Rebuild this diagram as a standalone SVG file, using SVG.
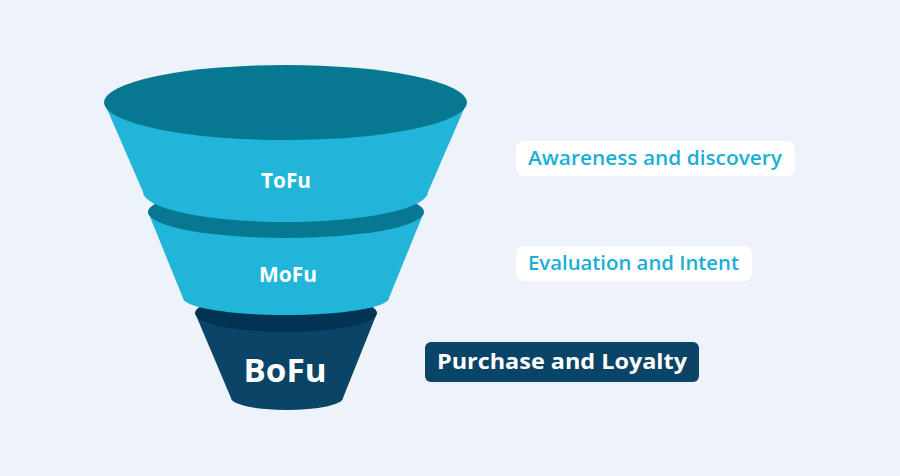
<svg xmlns="http://www.w3.org/2000/svg" width="900" height="476" viewBox="0 0 900 476">
<style>
.lbl{font-family:"Open Sans","Liberation Sans",sans-serif;font-weight:700;fill:#ffffff;text-anchor:middle}
.tag{font-family:"Open Sans","Liberation Sans",sans-serif;font-weight:600;font-size:19px}
</style>
<rect width="900" height="476" fill="#eef3fa"/>
<g id="bofu">
<path d="M195,313 L231,398 A56,12 0 0 0 343,398 L377,313 Z" fill="#0a4466"/>
<ellipse cx="286" cy="313" rx="91" ry="19" fill="#003452"/>
<text class="lbl" x="285" y="382" font-size="33" textLength="83" lengthAdjust="spacingAndGlyphs">BoFu</text>
</g>
<g id="mofu">
<path d="M148,212 L183,298 A103,17 0 0 0 389,298 L424,212 Z" fill="#22b5da"/>
<ellipse cx="286" cy="212" rx="138" ry="26" fill="#067891"/>
<text class="lbl" x="288" y="282" font-size="21" textLength="58" lengthAdjust="spacingAndGlyphs">MoFu</text>
</g>
<g id="tofu">
<path d="M104,102 L143,192 A142.5,30 0 0 0 428,192 L467,102 Z" fill="#22b5da"/>
<ellipse cx="285.5" cy="102.5" rx="181.5" ry="37.5" fill="#067891"/>
<text class="lbl" x="286" y="188" font-size="22" textLength="50" lengthAdjust="spacingAndGlyphs">ToFu</text>
</g>
<g id="label-awareness">
<rect x="516" y="141" width="279" height="35" rx="8" fill="#ffffff"/>
<text class="tag" x="528" y="165" fill="#1aafd6" textLength="254" lengthAdjust="spacingAndGlyphs">Awareness and discovery</text>
</g>
<g id="label-evaluation">
<rect x="516" y="246" width="236" height="35" rx="8" fill="#ffffff"/>
<text class="tag" x="528" y="270" fill="#1aafd6" textLength="211" lengthAdjust="spacingAndGlyphs">Evaluation and Intent</text>
</g>
<g id="label-purchase">
<rect x="425" y="342" width="274" height="40" rx="6" fill="#0a4466"/>
<text x="437" y="369" font-family="Open Sans, Liberation Sans, sans-serif" font-weight="700" font-size="22" fill="#ffffff" textLength="250" lengthAdjust="spacingAndGlyphs">Purchase and Loyalty</text>
</g>
<g id="connectors"/>
</svg>
